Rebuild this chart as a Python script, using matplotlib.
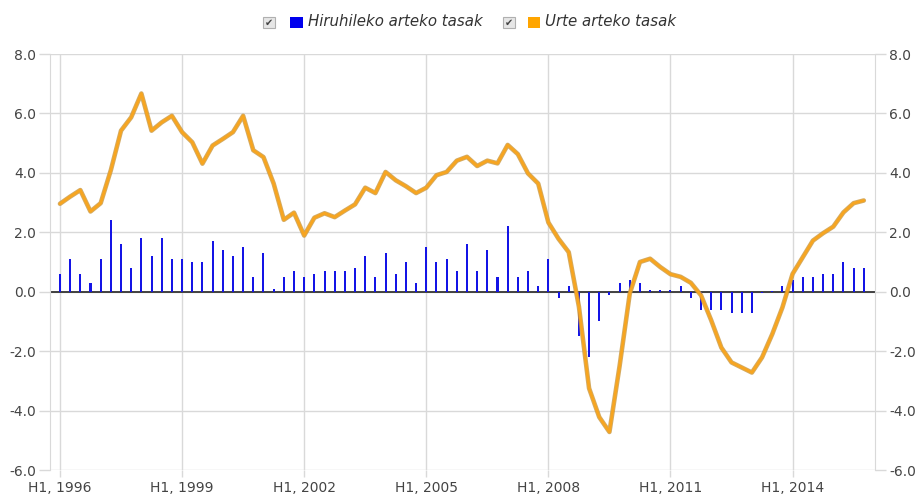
import matplotlib
matplotlib.use("Agg")
import matplotlib.pyplot as plt
import matplotlib.patheffects as pe
from matplotlib.patches import Rectangle

# quarterly data, 1996 Q1 .. 2015 Q4
quarterly_rate = [
    0.6, 1.1, 0.6, 0.3, 1.1, 2.4, 1.6, 0.8, 1.8, 1.2, 1.8, 1.1,
    1.1, 1.0, 1.0, 1.7, 1.4, 1.2, 1.5, 0.5, 1.3, 0.1, 0.5, 0.7,
    0.5, 0.6, 0.7, 0.7, 0.7, 0.8, 1.2, 0.5, 1.3, 0.6, 1.0, 0.3,
    1.5, 1.0, 1.1, 0.7, 1.6, 0.7, 1.4, 0.5, 2.2, 0.5, 0.7, 0.2,
    1.1, -0.2, 0.2, -1.5, -2.2, -1.0, -0.1, 0.3, 0.4, 0.3, 0.05, 0.05,
    0.07, 0.2, -0.2, -0.6, -0.6, -0.6, -0.7, -0.7, -0.7, -0.03, 0.03, 0.2,
    0.4, 0.5, 0.5, 0.6, 0.6, 1.0, 0.8, 0.8,
]
annual_rate = [
    2.96, 3.2, 3.42, 2.7, 2.98, 4.09, 5.42, 5.87, 6.67, 5.42, 5.7, 5.92,
    5.37, 5.03, 4.31, 4.92, 5.14, 5.37, 5.92, 4.76, 4.53, 3.64, 2.42, 2.66,
    1.89, 2.49, 2.64, 2.51, 2.73, 2.94, 3.5, 3.32, 4.03, 3.75, 3.55, 3.32,
    3.5, 3.92, 4.03, 4.41, 4.54, 4.23, 4.41, 4.32, 4.94, 4.63, 3.98, 3.64,
    2.33, 1.78, 1.33, -0.5, -3.25, -4.22, -4.72, -2.5, -0.06, 1.0, 1.11, 0.83,
    0.59, 0.5, 0.3, -0.12, -0.96, -1.88, -2.38, -2.55, -2.72, -2.21, -1.43, -0.53,
    0.6, 1.16, 1.72, 1.97, 2.19, 2.67, 2.98, 3.07,
]
tick_labels = ["H1, 1996", "H1, 1999", "H1, 2002", "H1, 2005",
               "H1, 2008", "H1, 2011", "H1, 2014"]
y_ticks = [-6, -4, -2, 0, 2, 4, 6, 8]

W, H = 918, 498
fig = plt.figure(figsize=(W / 100, H / 100), dpi=100)
ax = fig.add_axes([50 / W, 28 / H, 825 / W, 416 / H])

x = list(range(len(quarterly_rate)))
grid_col = "#d9d9d9"
text_col = "#444444"

ax.bar(x, quarterly_rate, width=0.2, color="#1414e6", zorder=3)
ax.axhline(0, color="#333333", lw=1.3, zorder=2)
ax.plot(x, annual_rate, color="#f7a520", lw=2.0, solid_joinstyle="round",
        solid_capstyle="round", zorder=4,
        path_effects=[pe.Stroke(linewidth=3.3, foreground="#c9963c", alpha=0.8),
                      pe.Normal()])

ax.set_xlim(-0.98, 80.1)
ax.set_ylim(-6, 8)
ax.set_xticks(range(0, 80, 12))
ax.set_xticklabels(tick_labels)
ax.set_yticks(y_ticks)
ax.set_yticklabels([f"{v:.1f}" for v in y_ticks])
ax.grid(True, color=grid_col, lw=1, zorder=0)

ax.tick_params(axis="both", colors=grid_col, labelcolor=text_col, labelsize=10)
ax.tick_params(axis="y", length=8, width=1, left=True, right=True,
               labelleft=True, labelright=True, pad=2)
ax.tick_params(axis="x", length=5, width=1, pad=3)

for side in ["top", "bottom"]:
    ax.spines[side].set_visible(False)
for side in ["left", "right"]:
    ax.spines[side].set_color(grid_col)

# legend drawn at top
def px(xp, yp):
    return xp / W, 1 - yp / H

for cx in [263, 503]:
    fig.patches.append(Rectangle(px(cx, 28), 12 / W, 11 / H, transform=fig.transFigure,
                                 facecolor="#e6e6e6", edgecolor="#b0b0b0", lw=0.8))
    fig.text(*px(cx + 6, 22.5), "\u2714", ha="center", va="center",
             fontsize=7, color="#444444", family="DejaVu Sans")

fig.patches.append(Rectangle(px(290, 28), 13 / W, 11 / H, transform=fig.transFigure,
                             facecolor="#0000ee", edgecolor="none"))
fig.patches.append(Rectangle(px(528, 28), 12 / W, 11 / H, transform=fig.transFigure,
                             facecolor="#ffa500", edgecolor="none"))
fig.text(*px(308, 22), "Hiruhileko arteko tasak", ha="left", va="center",
         fontsize=10.8, style="italic", color="#333333")
fig.text(*px(545, 22), "Urte arteko tasak", ha="left", va="center",
         fontsize=10.8, style="italic", color="#333333")

fig.savefig("out.png", dpi=100, facecolor="white")
